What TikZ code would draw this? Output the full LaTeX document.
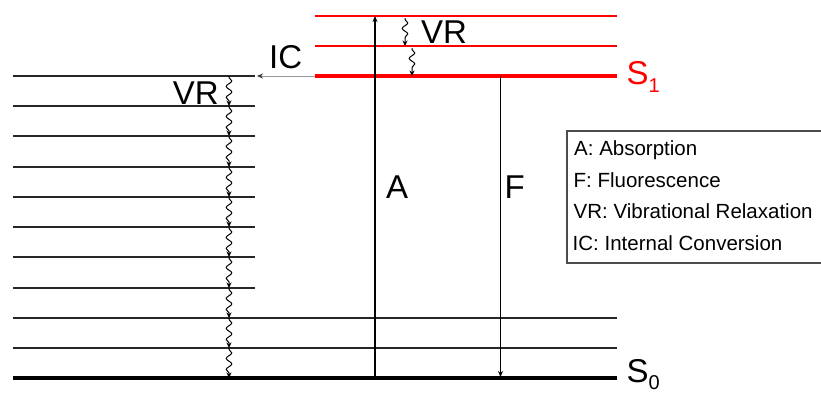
\documentclass[tikz,border=0pt]{standalone}
\usepackage{fontspec}
\setmainfont{Liberation Sans}
\usetikzlibrary{arrows.meta,decorations.pathmorphing}
\begin{document}
\begin{tikzpicture}[x=1pt,y=-1pt,
  lvl/.style={line width=1.8pt,black!85},
  gnd/.style={line width=3.2pt,black},
  sthin/.style={line width=1.6pt,red},
  sthick/.style={line width=3.2pt,red},
  arr/.style={-{Stealth[length=6pt,width=5pt]},black},
  icarr/.style={-{Stealth[length=6pt,width=5pt,color=black!80]},line width=1pt,black!40},
  wavy/.style={-{Stealth[length=5.5pt,width=5pt]},line width=1pt,black,decorate,
    decoration={snake,amplitude=2.8pt,segment length=11pt,pre length=1.5pt,post length=4pt}},
  lbl/.style={font=\fontsize{33}{33}\selectfont,inner sep=0pt},
  leg/.style={font=\fontsize{20.5}{20.5}\selectfont,anchor=base west,inner sep=0pt},
  legbox/.style={line width=1.3pt,black!70}]
\useasboundingbox (0,0) rectangle (821,392);
% S0 vibrational manifold
\foreach \yy [count=\n from 0] in {76,106,136,167,197,227,257,288,318,348,378}{
  \coordinate (a\n) at (13,\yy);
  \coordinate (L\n) at (229,\yy);
  \coordinate (b\n) at (255,\yy);
  \coordinate (c\n) at (617,\yy);
}
\foreach \i in {0,...,7}{\draw[lvl] (a\i) -- (b\i);}
\draw[lvl] (a8) -- (c8);
\draw[lvl] (a9) -- (c9);
\draw[gnd] (a10) -- (c10);
\foreach \i [evaluate=\i as \j using int(\i+1)] in {0,...,9}{\draw[wavy] (L\i) -- (L\j);}
% S1 manifold
\coordinate (t0) at (315,16);  \coordinate (u0) at (617,16);
\coordinate (t1) at (315,46);  \coordinate (u1) at (617,46);
\coordinate (t2) at (315,76);  \coordinate (u2) at (617,76);
\draw[sthin] (t0) -- (u0);
\draw[sthin] (t1) -- (u1);
\draw[sthick] (t2) -- (u2);
\coordinate (v0) at (405,18); \coordinate (v1) at (405,46);
\coordinate (w0) at (412,48); \coordinate (w1) at (412,76);
\draw[wavy] (v0) -- (v1);
\draw[wavy] (w0) -- (w1);
% absorption and fluorescence
\coordinate (Abot) at (375,378); \coordinate (Atop) at (375,16);
\draw[arr,line width=1.7pt] (Abot) -- (Atop);
\coordinate (Ftop) at (500.5,76); \coordinate (Fbot) at (500.5,377);
\draw[arr,line width=1.3pt] (Ftop) -- (Fbot);
% internal conversion
\coordinate (icfrom) at (315,76); \coordinate (icto) at (257,76);
\draw[icarr] (icfrom) -- (icto);
% labels
\node[lbl,anchor=base west] (vrtop) at (421,43) {VR};
\node[lbl,anchor=base east] (vrleft) at (219,104) {VR};
\node[lbl,anchor=base west] (ic) at (269,68) {IC};
\node[lbl,anchor=base west] (alab) at (386,198) {A};
\node[lbl,anchor=base west] (flab) at (504.5,198) {F};
\node[lbl,anchor=base west,red] (s1) at (626.5,84) {S\raisebox{-8pt}{\fontsize{20}{20}\selectfont 1}};
\node[lbl,anchor=base west] (s0) at (626.5,382) {S\raisebox{-7pt}{\fontsize{20}{20}\selectfont 0}};
% legend
\draw[legbox] (821,131) -- (567,131) -- (567,263) -- (821,263);
\node[leg] (l1) at (574,155) {A: Absorption};
\node[leg] (l2) at (573.5,187) {F: Fluorescence};
\node[leg] (l3) at (573.5,218) {VR: Vibrational Relaxation};
\node[leg] (l4) at (572.5,250) {IC: Internal Conversion};
\end{tikzpicture}
\end{document}
